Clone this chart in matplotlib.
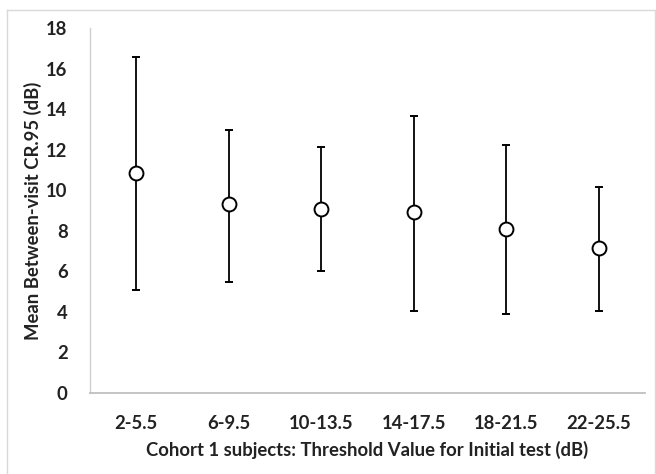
import matplotlib
matplotlib.use("Agg")
import matplotlib.pyplot as plt
from matplotlib.lines import Line2D

categories = ["2-5.5", "6-9.5", "10-13.5", "14-17.5", "18-21.5", "22-25.5"]
means = [10.88, 9.32, 9.10, 8.94, 8.12, 7.18]
upper = [16.57, 12.98, 12.13, 13.69, 12.24, 10.19]
lower = [5.06, 5.49, 6.00, 4.06, 3.88, 4.06]
yticks = [0, 2, 4, 6, 8, 10, 12, 14, 16, 18]

plt.rcParams['font.family'] = ['Lato', 'DejaVu Sans']
FS = 13.3

fig = plt.figure(figsize=(6.56, 4.74), dpi=100)
ax = fig.add_axes([0.137, 0.171, 0.846, 0.769])

x = list(range(len(categories)))
err_lo = [m - l for m, l in zip(means, lower)]
err_hi = [u - m for m, u in zip(means, upper)]
ax.errorbar(x, means, yerr=[err_lo, err_hi], fmt='o', mfc='white', mec='black',
            ms=10, mew=1.4, ecolor='black', elinewidth=1.3, capsize=3, capthick=1.3,
            color='black', zorder=3)

ax.set_xlim(-0.5, len(categories) - 0.5)
ax.set_ylim(0, 18)
ax.set_yticks(yticks)
ax.set_xticks(x)
ax.set_xticklabels(categories)
ax.tick_params(axis='both', length=0, labelsize=FS, colors='#222222')
ax.tick_params(axis='y', pad=16)
ax.tick_params(axis='x', pad=16)
for lab in ax.get_xticklabels() + ax.get_yticklabels():
    lab.set_fontweight('bold')

for s in ['top', 'right']:
    ax.spines[s].set_visible(False)
ax.spines['left'].set_color('#d0d0d0')
ax.spines['bottom'].set_color('#bfbfbf')
ax.spines['left'].set_linewidth(1.0)
ax.spines['bottom'].set_linewidth(1.3)

ax.set_ylabel("Mean Between-visit CR.95 (dB)", fontsize=FS, fontweight='bold', color='#222222', labelpad=3)
ax.set_xlabel("Cohort 1 subjects: Threshold Value for Initial test (dB)", fontsize=FS,
              fontweight='bold', color='#222222', labelpad=6)

# chart-area border
W, H = 656, 474
bx0, bx1, by0 = 7 / W, 655 / W, 1 - 10 / H
for xs, ys in [([bx0, bx1], [by0, by0]), ([bx0, bx0], [by0, -0.01]), ([bx1, bx1], [by0, -0.01])]:
    fig.add_artist(Line2D(xs, ys, transform=fig.transFigure, color='#d9d9d9', lw=1.0))

fig.savefig("out.png", dpi=100)
